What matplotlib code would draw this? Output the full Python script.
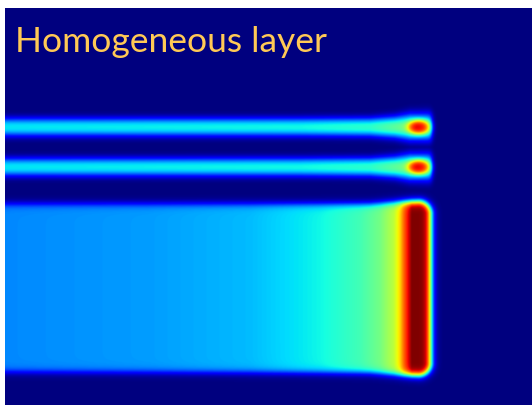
import numpy as np
import matplotlib
matplotlib.use("Agg")
import matplotlib.pyplot as plt

# picture size in pixels, field sits below a thin white margin (left 5, top 8)
W, H = 532, 405
x0, y0 = 5, 8

# two thin streamers: centre rows, core level, width, tip blob
band_rows = [127, 167]
band_core_x = [5, 300, 370, 395, 410, 432]
band_core_val = [0.35, 0.37, 0.40, 0.46, 0.50, 0.45]
band_halfw = [9.0, 9.0, 9.2, 10.5, 12.5, 13.0]
band_end = 432
tip_x, tip_amp = 419, 0.42

# wide slab: edges and level along x
slab_x = [5, 150, 250, 320, 360, 380, 394, 400, 404, 408, 412, 430]
slab_val = [0.26, 0.28, 0.31, 0.37, 0.43, 0.49, 0.58, 0.68, 0.80, 0.90, 1.0, 1.0]
slab_top_x = [5, 370, 400, 430]
slab_top_y = [204, 204, 202, 201]
slab_bot_x = [5, 370, 400, 430]
slab_bot_y = [372, 373, 375, 376]
slab_end = 431
corner_r = 13

title = "Homogeneous layer"


def step(u, s):
    return 0.5 * (1 + np.tanh(u / s))


# grid at 2x resolution over the field area
xs = np.linspace(x0, W, (W - x0) * 2)
ys = np.linspace(y0, H, (H - y0) * 2)
X, Y = np.meshgrid(xs, ys)
field = np.zeros_like(X)

# slab as a rounded box (right corners rounded)
top = np.interp(X, slab_top_x, slab_top_y)
bot = np.interp(X, slab_bot_x, slab_bot_y)
ex = corner_r - (slab_end - X)
ey = corner_r - np.minimum(Y - top, bot - Y)
sdf = (np.hypot(np.maximum(ex, 0), np.maximum(ey, 0))
       + np.minimum(np.maximum(ex, ey), 0) - corner_r)
slab = np.interp(X, slab_x, slab_val) * step(-sdf, 4.3)
field = np.maximum(field, slab)

# thin bands
for yc in band_rows:
    hw = np.interp(X, band_core_x, band_halfw)
    core = np.interp(X, band_core_x, band_core_val)
    d = np.abs(Y - yc)
    b = core * np.exp(-(d / hw) ** 2.5) * step(band_end - X, 2.6)
    r2 = ((X - tip_x) / 11.0) ** 2 + ((Y - yc) / 7.5) ** 2
    b += tip_amp * np.exp(-r2 ** 1.5)
    field = np.maximum(field, b)

fig = plt.figure(figsize=(W / 100, H / 100), dpi=100)
fig.patch.set_facecolor("white")
ax = fig.add_axes([x0 / W, 0, (W - x0) / W, (H - y0) / H])
ax.imshow(field, cmap="jet", vmin=0, vmax=1, extent=[x0, W, H, y0],
          interpolation="bilinear", aspect="auto")
ax.set_axis_off()

fig.text(15 / W, 1 - 52 / H, title, family=["Lato", "DejaVu Sans"],
         fontsize=25.5, color="#FFC955", va="baseline", ha="left")

fig.savefig("out.png", dpi=100)
